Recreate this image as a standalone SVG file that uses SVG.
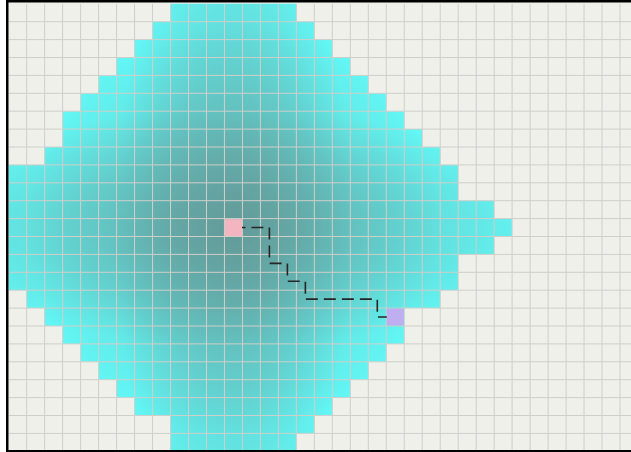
<svg xmlns="http://www.w3.org/2000/svg" width="631" height="452" viewBox="0 0 631 452">
<style>
.grid{fill:none;stroke:#cfcfca;stroke-width:1}
.route{fill:none;stroke:#262626;stroke-width:1.6;stroke-dasharray:12 6}
.frame{fill:#000}
.band{stop-color:#649492}
</style>
<defs>
<path id="vis" d="M9 0H16V1H17V2H18V3H19V4H20V5H21V6H22V7H23V8H24V9H25V11H27V12H28V13H27V14H25V16H24V17H22V19H21V20H20V21H19V22H18V23H17V24H16V25H9V23H7V22H6V21H5V20H4V19H3V18H2V17H1V16H0V9H2V8H3V6H4V5H5V4H6V3H7V2H8V1H9Z"/>
<radialGradient id="gH" gradientUnits="userSpaceOnUse" cx="12.5" cy="12.5" r="17.5" gradientTransform="translate(12.5 12.5) scale(1 0.38) translate(-12.5 -12.5)">
<stop offset="0" class="band" stop-opacity="0.6"/>
<stop offset="0.55" class="band" stop-opacity="0.3"/>
<stop offset="1" class="band" stop-opacity="0"/>
</radialGradient>
<radialGradient id="gV" gradientUnits="userSpaceOnUse" cx="12.5" cy="12.5" r="17.5" gradientTransform="translate(12.5 12.5) scale(0.38 1) translate(-12.5 -12.5)">
<stop offset="0" class="band" stop-opacity="0.6"/>
<stop offset="0.55" class="band" stop-opacity="0.3"/>
<stop offset="1" class="band" stop-opacity="0"/>
</radialGradient>
<radialGradient id="gC" gradientUnits="userSpaceOnUse" cx="12.5" cy="12.5" r="11.5">
<stop offset="0" class="band" stop-opacity="0.55"/>
<stop offset="1" class="band" stop-opacity="0"/>
</radialGradient>
</defs>
<rect width="631" height="452" fill="#f0f0eb"/>
<rect width="7" height="452" fill="#ffffff"/>
<g transform="translate(8.7 3.8) scale(17.98 17.9)">
<use href="#vis" fill="#62f7f5"/>
<use href="#vis" fill="url(#gH)"/>
<use href="#vis" fill="url(#gV)"/>
<use href="#vis" fill="url(#gC)"/>
<path class="grid" vector-effect="non-scaling-stroke" d="M1 0V25M2 0V25M3 0V25M4 0V25M5 0V25M6 0V25M7 0V25M8 0V25M9 0V25M10 0V25M11 0V25M12 0V25M13 0V25M14 0V25M15 0V25M16 0V25M17 0V25M18 0V25M19 0V25M20 0V25M21 0V25M22 0V25M23 0V25M24 0V25M25 0V25M26 0V25M27 0V25M28 0V25M29 0V25M30 0V25M31 0V25M32 0V25M33 0V25M34 0V25M0 1H35M0 2H35M0 3H35M0 4H35M0 5H35M0 6H35M0 7H35M0 8H35M0 9H35M0 10H35M0 11H35M0 12H35M0 13H35M0 14H35M0 15H35M0 16H35M0 17H35M0 18H35M0 19H35M0 20H35M0 21H35M0 22H35M0 23H35M0 24H35"/>
</g>
<g id="connectors">
<polyline class="route" points="233.45,227.55 269.41,227.55 269.41,263.35 287.39,263.35 287.39,281.25 305.37,281.25 305.37,299.15 377.29,299.15 377.29,317.05 395.27,317.05"/>
</g>
<g id="start">
<rect x="225" y="219.1" width="17" height="16.9" fill="#f3b5bf"/>
</g>
<g id="end">
<rect x="386.8" y="308.6" width="17" height="16.9" fill="#bfaef0"/>
</g>
<rect class="frame" x="6" y="0" width="625" height="2.5"/>
<rect class="frame" x="6" y="0" width="2.5" height="452"/>
<rect class="frame" x="6" y="450" width="625" height="2"/>
</svg>
